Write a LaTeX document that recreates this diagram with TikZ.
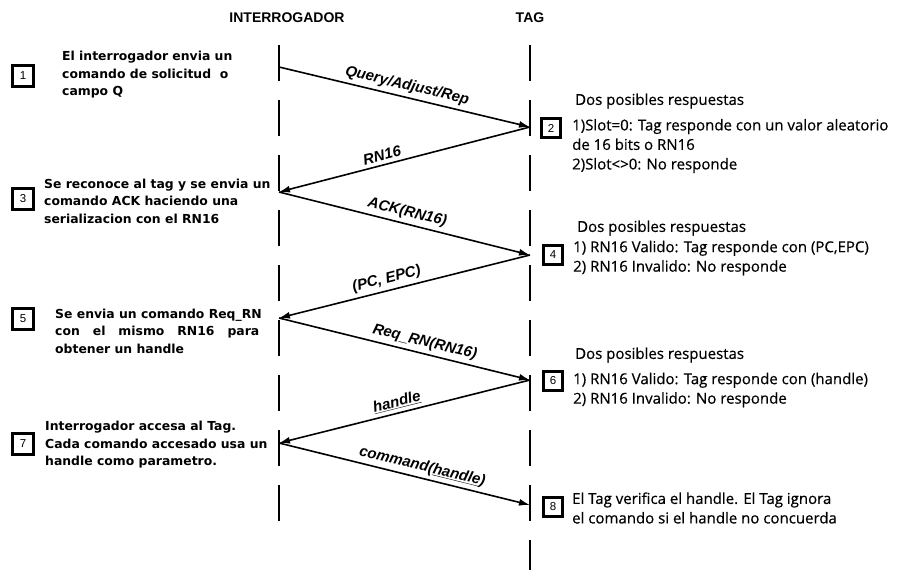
\documentclass[tikz,border=0pt]{standalone}
\usepackage{fontspec}
\setmainfont{Liberation Sans}
\newfontfamily\leftfont{DejaVu Sans}
\newfontfamily\rightfont[FakeBold=0.5]{Open Sans}
\usetikzlibrary{arrows.meta}
\begin{document}
\begin{tikzpicture}[x=1pt,y=-1pt,
  life/.style={line width=2.6pt, dash pattern=on 36pt off 19pt},
  msg/.style={line width=1.6pt, -{Latex[length=11pt,width=7pt]}},
  lbl/.style={font=\fontsize{15}{17}\selectfont\bfseries\itshape, sloped, above, inner sep=3.5pt},
  numbox/.style={draw, line width=3pt, minimum size=21pt, inner sep=0pt, font=\fontsize{11.5}{12}\selectfont},
  rnumbox/.style={numbox, line width=2.4pt, minimum size=19pt},
  ltext/.style={anchor=west, align=left, font=\leftfont\bfseries\fontsize{12.4}{17.5}\selectfont, inner sep=0pt},
  rtext/.style={anchor=west, align=left, font=\rightfont\fontsize{15}{19.5}\selectfont, inner sep=0pt},
  head/.style={font=\bfseries\fontsize{14}{16}\selectfont}
]
\useasboundingbox (0,0) rectangle (898,570);

% headers
\node[head] (hI) at (287,18) {INTERROGADOR};
\node[head] (hT) at (530,18) {TAG};

% lifelines
\coordinate (itop) at (279,45);
\coordinate (ibot) at (279,522);
\coordinate (ttop) at (530,45);
\coordinate (tbot) at (530,575);
\draw[life] (itop) -- (ibot);
\draw[life] (ttop) -- (tbot);

% message points
\coordinate (i1) at (279,67);
\coordinate (t2) at (530,127);
\coordinate (i3) at (279,192);
\coordinate (t4) at (530,255);
\coordinate (i5) at (279,318);
\coordinate (t6) at (530,380);
\coordinate (i7) at (279,443);
\coordinate (t8) at (530,505);

\draw[msg] (i1) -- node[lbl, pos=0.5] (l1) {Query/Adjust/Rep} (t2);
\draw[msg] (t2) -- node[lbl, pos=0.58] (l2) {RN16} (i3);
\draw[msg] (i3) -- node[lbl, pos=0.5] (l3) {ACK(RN16)} (t4);
\draw[msg] (t4) -- node[lbl, pos=0.56] (l4) {(PC, EPC)} (i5);
\draw[msg] (i5) -- node[lbl, pos=0.57] (l5) {Req\_RN(RN16)} (t6);
\draw[msg] (t6) -- node[lbl, pos=0.52] (l6) {\underline{handle}} (i7);
\draw[msg] (i7) -- node[lbl, pos=0.56] (l7) {command(\underline{handle})} (t8);

% left boxes and texts
\node[numbox] (b1) at (23,76) {1};
\node[ltext] (x1) at (62,75) {El interrogador envia un\\comando de solicitud\ \ o\\campo Q};
\node[numbox] (b3) at (23,199) {3};
\node[ltext] (x3) at (44,201) {Se reconoce al tag y se envia un\\comando ACK haciendo una\\serializacion con el RN16};
\node[numbox] (b5) at (23,319) {5};
\node[ltext] (x5) at (55,331) {Se envia un comando Req\_RN\\con\ \ \ el\ \ \ mismo\ \ \ RN16\ \ \ para\\obtener un handle};
\node[numbox] (b7) at (23,444) {7};
\node[ltext] (x7) at (45,445) {Interrogador accesa al Tag.\\Cada comando accesado usa un\\handle como parametro.};

% right boxes and texts
\node[rtext] (d2) at (575,101) {Dos posibles respuestas};
\node[rnumbox] (b2) at (551,128) {2};
\node[rtext] (x2) at (572,146) {1)Slot=0: Tag responde con un valor aleatorio\\de 16 bits o RN16\\2)Slot<>0: No responde};
\node[rtext] (d4) at (577,228) {Dos posibles respuestas};
\node[rnumbox] (b4) at (553,255) {4};
\node[rtext] (x4) at (573,258) {1) RN16 Valido: Tag responde con (PC,EPC)\\2) RN16 Invalido: No responde};
\node[rtext] (d6) at (575,355) {Dos posibles respuestas};
\node[rnumbox] (b6) at (553,381) {6};
\node[rtext] (x6) at (573,390) {1) RN16 Valido: Tag responde con (handle)\\2) RN16 Invalido: No responde};
\node[rnumbox] (b8) at (553,507) {8};
\node[rtext] (x8) at (572,508) {El Tag verifica el handle. El Tag ignora\\el comando si el handle no concuerda};
\end{tikzpicture}
\end{document}
